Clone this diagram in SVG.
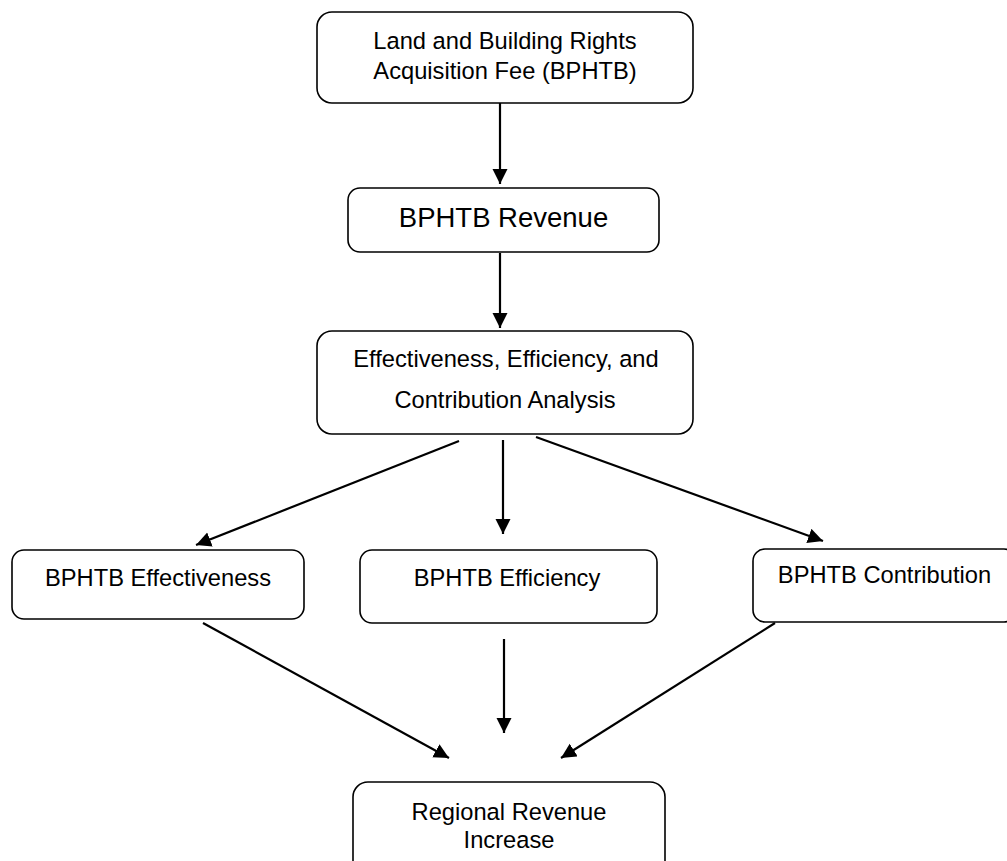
<svg xmlns="http://www.w3.org/2000/svg" width="1007" height="861" viewBox="0 0 1007 861">
<style>
.box{fill:#fff;stroke:#000;stroke-width:1.6}
.t{font-family:"Liberation Sans",Arial,sans-serif;font-size:23.7px;fill:#000;text-anchor:middle}
.big{font-size:27.5px}
.c{stroke:#000;stroke-width:2.2;fill:none;marker-end:url(#ah)}
</style>
<defs>
<marker id="ah" markerUnits="userSpaceOnUse" markerWidth="16" markerHeight="16" refX="15" refY="7.5" orient="auto">
<path d="M0,0 L15,7.5 L0,15 z" fill="#000"/>
</marker>
</defs>
<rect width="1007" height="861" fill="#fff"/>
<g id="connectors">
<line class="c" x1="500" y1="103" x2="500" y2="184"/>
<line class="c" x1="500" y1="253" x2="500" y2="328"/>
<line class="c" x1="459" y1="441" x2="196" y2="545"/>
<line class="c" x1="503" y1="440" x2="503" y2="534"/>
<line class="c" x1="536" y1="437" x2="823" y2="541"/>
<line class="c" x1="203" y1="623" x2="449" y2="758"/>
<line class="c" x1="504" y1="639" x2="504" y2="733"/>
<line class="c" x1="775" y1="623" x2="561" y2="758"/>
</g>
<g id="n1">
<rect class="box" x="317" y="12" width="376" height="91" rx="15"/>
<text class="t" x="505" y="49">Land and Building Rights</text>
<text class="t" x="505" y="79">Acquisition Fee (BPHTB)</text>
</g>
<g id="n2">
<rect class="box" x="348" y="188" width="311" height="64" rx="12"/>
<text class="t big" x="503.5" y="227">BPHTB Revenue</text>
</g>
<g id="n3">
<rect class="box" x="317" y="331" width="376" height="103" rx="15"/>
<text class="t" x="506" y="367">Effectiveness, Efficiency, and</text>
<text class="t" x="505" y="408">Contribution Analysis</text>
</g>
<g id="n4">
<rect class="box" x="12" y="550" width="292" height="69" rx="12"/>
<text class="t" x="158" y="586">BPHTB Effectiveness</text>
</g>
<g id="n5">
<rect class="box" x="360" y="550" width="297" height="73" rx="12"/>
<text class="t" x="507" y="586">BPHTB Efficiency</text>
</g>
<g id="n6">
<rect class="box" x="753" y="549" width="263" height="73" rx="12"/>
<text class="t" x="884.5" y="583">BPHTB Contribution</text>
</g>
<g id="n7">
<rect class="box" x="353" y="782" width="312" height="100" rx="15"/>
<text class="t" x="509" y="820">Regional Revenue</text>
<text class="t" x="509" y="848">Increase</text>
</g>
</svg>
